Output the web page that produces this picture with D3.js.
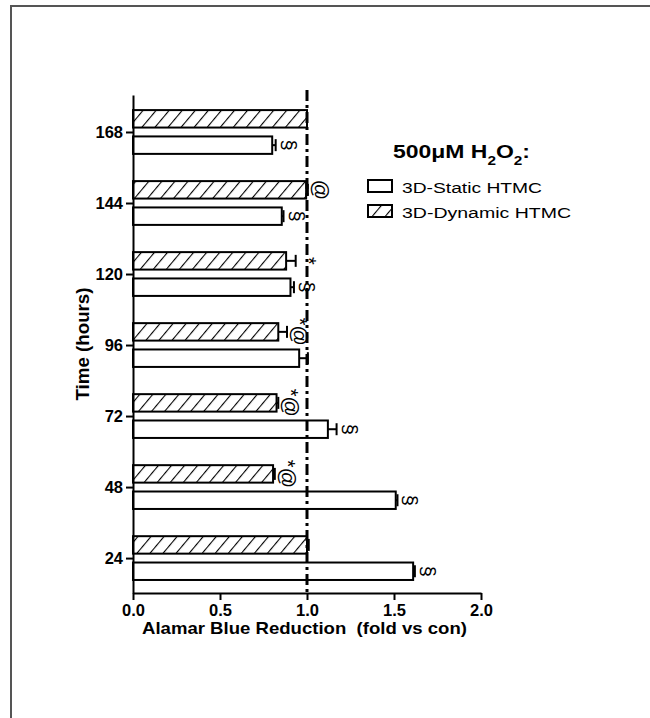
<!DOCTYPE html>
<meta charset="utf-8">
<style>
  body { margin: 0; background: #fff; }
  text { font-family: Arial, "Liberation Sans", sans-serif; fill: #000; }
  .axis path, .axis line { stroke: #000; stroke-width: 2px; }
  .axis text { font-size: 16.5px; font-weight: bold; }
  .bar { stroke: #000; stroke-width: 2px; }
  .err { stroke: #000; stroke-width: 2px; fill: none; }
</style>
<body>
<script src="https://d3js.org/d3.v7.min.js"></script>
<script>
  // time points (hours)
  var hours = [24, 48, 72, 96, 120, 144, 168];
  // 3D-Static HTMC
  var staticVals = [1.61, 1.51, 1.12, 0.955, 0.905, 0.855, 0.80];
  var staticErr = [0.01, 0.01, 0.05, 0.05, 0.02, 0.01, 0.02];
  var staticNote = ["§", "§", "§", "", "§", "§", "§"];
  // 3D-Dynamic HTMC
  var dynVals = [1.0, 0.805, 0.825, 0.835, 0.88, 0.995, 1.0];
  var dynErr = [0.01, 0.01, 0.01, 0.05, 0.055, 0.01, 0.0];
  var dynNote = ["", "*@", "*@", "*@", "*", "@", ""];
  var xTicks = [0, 0.5, 1.0, 1.5, 2.0];

  var width = 650, height = 718;
  var svg = d3.select("body").append("svg")
    .attr("width", width)
    .attr("height", height);

  // outer frame (cut off at right and bottom)
  svg.append("path")
    .attr("d", "M11,718 V6 H650")
    .attr("fill", "none")
    .attr("stroke", "#555")
    .attr("stroke-width", 2);

  var x = d3.scaleLinear().domain([0, 2]).range([133, 481]);
  var y = d3.scaleLinear().domain([12.2, 180.5]).range([593, 95]);

  // hatch pattern
  var defs = svg.append("defs");
  var pat = defs.append("pattern")
    .attr("id", "hatch")
    .attr("patternUnits", "userSpaceOnUse")
    .attr("width", 10).attr("height", 10)
    .attr("patternTransform", "rotate(40)");
  pat.append("rect").attr("width", 10).attr("height", 10).attr("fill", "#fff");
  pat.append("line")
    .attr("x1", 0).attr("y1", 0).attr("x2", 0).attr("y2", 10)
    .attr("stroke", "#000").attr("stroke-width", 2.2);

  var rows = hours.map(function(h, i) {
    return {h: h, sv: staticVals[i], se: staticErr[i], sn: staticNote[i],
            dv: dynVals[i], de: dynErr[i], dn: dynNote[i]};
  });

  var g = svg.append("g");

  // bars: dynamic above the tick, static below
  function drawSeries(key, errKey, noteKey, off0, off1, fill) {
    var grp = g.selectAll(".s-" + key).data(rows).enter().append("g");
    grp.append("rect")
      .attr("class", "bar")
      .attr("x", x(0))
      .attr("y", function(d) { return y(d.h + off1); })
      .attr("width", function(d) { return x(d[key]) - x(0); })
      .attr("height", function(d) { return y(d.h + off0) - y(d.h + off1); })
      .attr("fill", fill);
    var cy = function(d) { return y(d.h + (off0 + off1) / 2); };
    grp.append("line").attr("class", "err")
      .attr("x1", function(d) { return x(d[key]); })
      .attr("x2", function(d) { return x(d[key] + d[errKey]); })
      .attr("y1", cy).attr("y2", cy);
    grp.append("line").attr("class", "err")
      .attr("x1", function(d) { return x(d[key] + d[errKey]); })
      .attr("x2", function(d) { return x(d[key] + d[errKey]); })
      .attr("y1", function(d) { return cy(d) - 6; })
      .attr("y2", function(d) { return cy(d) + 6; });
    grp.append("text")
      .attr("transform", function(d) {
        return "translate(" + (x(d[key] + d[errKey]) + 13) + "," + cy(d) + ") rotate(90)";
      })
      .attr("text-anchor", "middle")
      .attr("dy", "0.35em")
      .style("font-size", "20px")
      .text(function(d) { return d[noteKey]; });
  }
  drawSeries("dv", "de", "dn", 1.5, 7.4, "url(#hatch)");
  drawSeries("sv", "se", "sn", -7.4, -1.5, "#fff");

  // reference line at 1.0
  svg.append("line")
    .attr("x1", x(1)).attr("x2", x(1))
    .attr("y1", 90).attr("y2", 593)
    .attr("stroke", "#000")
    .attr("stroke-width", 3)
    .attr("stroke-dasharray", "11,4,3,4");

  // axes
  svg.append("g")
    .attr("class", "axis")
    .attr("transform", "translate(0,593)")
    .call(d3.axisBottom(x).tickValues(xTicks).tickFormat(d3.format(".1f"))
      .tickSizeInner(7).tickSizeOuter(0).tickPadding(4));

  svg.append("g")
    .attr("class", "axis")
    .attr("transform", "translate(133,0)")
    .call(d3.axisLeft(y).tickValues(hours).tickSizeInner(7).tickSizeOuter(0).tickPadding(3));

  // axis titles
  svg.append("text")
    .attr("x", 142).attr("y", 634)
    .attr("textLength", 325)
    .attr("lengthAdjust", "spacingAndGlyphs")
    .style("font-size", "17px").style("font-weight", "bold")
    .attr("xml:space", "preserve")
    .text("Alamar Blue Reduction  (fold vs con)");

  svg.append("text")
    .attr("transform", "translate(89,344) rotate(-90)")
    .attr("text-anchor", "middle")
    .attr("textLength", 113)
    .attr("lengthAdjust", "spacingAndGlyphs")
    .style("font-size", "18px").style("font-weight", "bold")
    .text("Time (hours)");

  // legend
  var title = svg.append("text")
    .attr("x", 393).attr("y", 158)
    .attr("textLength", 137)
    .attr("lengthAdjust", "spacingAndGlyphs")
    .style("font-size", "18px").style("font-weight", "bold");
  title.append("tspan").text("500μM H");
  title.append("tspan").attr("baseline-shift", "sub").style("font-size", "12px").text("2");
  title.append("tspan").text("O");
  title.append("tspan").attr("baseline-shift", "sub").style("font-size", "12px").text("2");
  title.append("tspan").text(":");

  var legendItems = [
    {label: "3D-Static HTMC", fill: "#fff", len: 140},
    {label: "3D-Dynamic HTMC", fill: "url(#hatch)", len: 169}
  ];
  var leg = svg.selectAll(".leg").data(legendItems).enter().append("g")
    .attr("transform", function(d, i) { return "translate(368," + (180 + i * 25) + ")"; });
  leg.append("rect")
    .attr("width", 24).attr("height", 12)
    .attr("fill", function(d) { return d.fill; })
    .attr("stroke", "#000").attr("stroke-width", 2);
  leg.append("text")
    .attr("x", 34).attr("y", 12.5)
    .attr("textLength", function(d) { return d.len; })
    .attr("lengthAdjust", "spacingAndGlyphs")
    .style("font-size", "15.5px")
    .text(function(d) { return d.label; });
</script>
</body>
